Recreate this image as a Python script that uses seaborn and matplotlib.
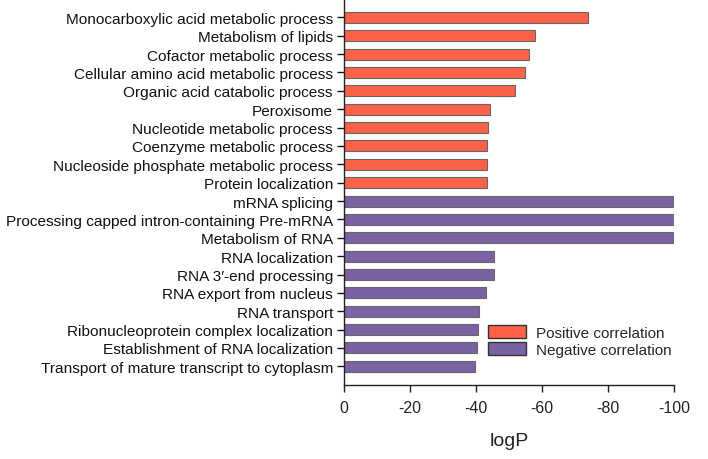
import matplotlib
matplotlib.use("Agg")
import matplotlib.pyplot as plt
import seaborn as sns
import pandas as pd
from matplotlib.patches import Patch

categories = [
    "Monocarboxylic acid metabolic process",
    "Metabolism of lipids",
    "Cofactor metabolic process",
    "Cellular amino acid metabolic process",
    "Organic acid catabolic process",
    "Peroxisome",
    "Nucleotide metabolic process",
    "Coenzyme metabolic process",
    "Nucleoside phosphate metabolic process",
    "Protein localization",
    "mRNA splicing",
    "Processing capped intron-containing Pre-mRNA",
    "Metabolism of RNA",
    "RNA localization",
    "RNA 3\u2032-end processing",
    "RNA export from nucleus",
    "RNA transport",
    "Ribonucleoprotein complex localization",
    "Establishment of RNA localization",
    "Transport of mature transcript to cytoplasm",
]
logp = [-74.0, -57.9, -56.1, -54.8, -51.7, -44.2, -43.7, -43.2, -43.2, -43.2,
        -100.0, -100.0, -100.0, -45.5, -45.3, -43.1, -40.9, -40.7, -40.4, -39.7]
groups = ["Positive correlation"] * 10 + ["Negative correlation"] * 10
group_names = ["Positive correlation", "Negative correlation"]
colors = ["#FF6347", "#7B62A3"]
xticks = [0, -20, -40, -60, -80, -100]

df = pd.DataFrame({"term": categories, "logP": logp, "group": groups})

sns.set_style("white")
plt.rcParams["font.family"] = ["Liberation Sans", "DejaVu Sans"]

fig = plt.figure(figsize=(7.08, 4.6), dpi=100)
fig.patch.set_facecolor("white")
ax = fig.add_axes([0.486, 0.1615, 0.4664, 0.8385])

sns.barplot(data=df, y="term", x="logP", hue="group", hue_order=group_names,
            palette=colors, saturation=1, dodge=False, width=0.6, orient="h",
            edgecolor="#666666", linewidth=0.8, legend=False, ax=ax)

ax.set_xlim(0, -100)
ax.set_ylim(20.0, -1.0)
ax.set_xticks(xticks)
ax.set_xticklabels([str(t) for t in xticks], fontsize=11.5, color="#222222")
ax.tick_params(axis="y", labelsize=11.1, length=5, width=1, colors="#111111",
               left=True, pad=3)
ax.tick_params(axis="x", length=5, width=1, colors="#222222", bottom=True, pad=6)
ax.set_ylabel("")
ax.set_xlabel("logP", fontsize=14, color="#222222", labelpad=12)
for s in ["top", "right"]:
    ax.spines[s].set_visible(False)
for s in ["left", "bottom"]:
    ax.spines[s].set_color("#222222")
    ax.spines[s].set_linewidth(1)

handles = [Patch(facecolor=c, edgecolor="#333333", linewidth=1, label=n)
           for c, n in zip(colors, group_names)]
ax.legend(handles=handles, loc="upper left", bbox_to_anchor=(0.418, 0.17),
          frameon=False, fontsize=11, handlelength=2.5, handleheight=0.9,
          handletextpad=0.6, labelspacing=0.15, borderaxespad=0)

fig.savefig("out.png", dpi=100, facecolor="white")
